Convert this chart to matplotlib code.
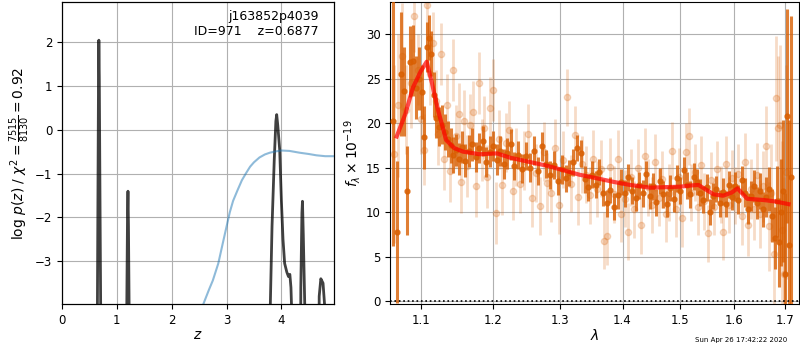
import matplotlib
matplotlib.use('Agg')
import matplotlib.pyplot as plt

# --- left panel: p(z) and chi2 ---
z_pz = [0.0, 0.62, 0.645, 0.665, 0.672, 0.68, 0.695, 0.71, 0.74,
        1.15, 1.175, 1.195, 1.203, 1.212, 1.23, 1.26,
        3.76, 3.79, 3.83, 3.87, 3.90, 3.915, 3.935, 3.97, 4.00, 4.03, 4.06,
        4.10, 4.13, 4.155, 4.175, 4.19, 4.22,
        4.33, 4.355, 4.375, 4.385, 4.40, 4.435, 4.46,
        4.67, 4.69, 4.72, 4.76, 4.80, 4.83, 4.96]
logpz = [-12, -12, -4.2, 1.0, 2.05, 1.2, -2.0, -5.0, -12,
         -12, -5.0, -1.9, -1.40, -2.2, -5.0, -12,
         -12, -4.5, -2.2, -0.7, 0.2, 0.35, 0.1, -0.46, -1.6, -2.5, -3.05,
         -3.25, -3.35, -3.3, -3.6, -4.2, -12,
         -12, -3.6, -1.9, -1.63, -2.4, -4.5, -12,
         -12, -3.8, -3.4, -3.5, -4.2, -12, -12]

z_chi = [2.45, 2.58, 2.68, 2.75, 2.85, 2.93, 3.0, 3.06, 3.12, 3.2, 3.28, 3.36,
         3.43, 3.5, 3.6, 3.7, 3.79, 3.9, 4.0, 4.15, 4.33, 4.5, 4.64, 4.8, 4.96]
chi_curve = [-4.5, -3.97, -3.65, -3.44, -3.05, -2.6, -2.21, -1.88, -1.62,
             -1.38, -1.15, -0.98, -0.84, -0.74, -0.63, -0.56, -0.52, -0.49,
             -0.47, -0.48, -0.52, -0.55, -0.58, -0.60, -0.60]

# --- right panel: spectrum ---
wave_a = [1.064, 1.069, 1.074, 1.079, 1.082, 1.086, 1.090, 1.094, 1.098, 1.102,
          1.105, 1.108, 1.111, 1.114, 1.118, 1.121, 1.125, 1.128, 1.132, 1.136,
          1.140, 1.144, 1.148, 1.152, 1.156, 1.160, 1.165, 1.170, 1.175, 1.180,
          1.185, 1.190, 1.195, 1.200, 1.205, 1.210, 1.215, 1.220, 1.225, 1.230,
          1.236, 1.242, 1.248, 1.254, 1.260, 1.266, 1.272, 1.278, 1.284, 1.290,
          1.296, 1.302, 1.308, 1.314, 1.320, 1.326, 1.332, 1.338, 1.344, 1.350,
          1.356, 1.362, 1.368, 1.374, 1.380, 1.386, 1.392, 1.398, 1.404, 1.410,
          1.416, 1.422, 1.428, 1.434, 1.440, 1.446, 1.452, 1.458, 1.464, 1.470,
          1.476, 1.482, 1.488, 1.494, 1.500, 1.506, 1.512, 1.518, 1.524, 1.530,
          1.536, 1.542, 1.548, 1.554, 1.560, 1.566, 1.572, 1.578, 1.584, 1.590,
          1.596, 1.602, 1.608, 1.614, 1.620, 1.626, 1.632, 1.638, 1.644, 1.650,
          1.656, 1.662, 1.668, 1.674, 1.679, 1.684, 1.688, 1.692, 1.696, 1.700,
          1.704, 1.708, 1.712]
flux_a = [20.2, 7.8, 25.5, 23.6, 12.4, 26.9, 27.0, 24.0, 25.0, 23.5,
          18.4, 28.6, 29.6, 27.8, 23.2, 20.6, 19.6, 19.8, 19.0, 18.2,
          17.5, 16.4, 17.0, 16.0, 17.3, 15.8, 16.9, 17.6, 16.2, 17.2,
          18.0, 15.6, 16.8, 17.4, 15.9, 16.9, 15.4, 16.6, 17.6, 15.2,
          16.4, 14.9, 16.3, 15.0, 16.9, 14.6, 17.4, 15.4, 14.2, 15.3,
          13.5, 14.8, 13.8, 14.4, 15.6, 17.2, 16.6, 13.7, 12.8, 14.2,
          13.1, 14.5, 12.2, 11.0, 12.5, 10.6, 11.9, 13.4, 12.1, 13.9,
          12.4, 11.6, 13.0, 12.1, 14.3, 11.8, 12.9, 11.1, 13.5, 12.0,
          10.9, 12.7, 11.5, 13.8, 12.4, 14.7, 13.0, 12.0, 14.0, 13.4,
          12.2, 11.4, 12.8, 10.0, 11.8, 12.6, 11.0, 12.3, 10.9, 13.1,
          11.7, 12.9, 11.4, 13.6, 12.2, 10.4, 11.8, 12.9, 11.0, 12.4,
          10.3, 11.7, 12.6, 9.6, 7.1, 11.2, 6.6, 10.0, 12.4, 3.1,
          20.8, 6.3, 14.0]
err_a = [14, 8, 7, 5, 5, 4, 4, 3.5, 3.5, 3,
         3.5, 2.8, 2.5, 2.5, 2.5, 2.3, 2.2, 2.2, 2, 2,
         2, 2, 1.8, 1.8, 1.8, 1.8, 1.8, 1.8, 1.7, 1.7,
         1.7, 1.7, 1.7, 1.7, 1.7, 1.7, 1.7, 1.7, 1.7, 1.6,
         1.6, 1.6, 1.6, 1.6, 1.6, 1.6, 1.6, 1.6, 1.6, 1.6,
         1.6, 1.6, 1.5, 1.5, 1.5, 1.5, 1.5, 1.5, 1.5, 1.5,
         1.5, 1.5, 1.5, 1.5, 1.5, 1.5, 1.5, 1.5, 1.5, 1.5,
         1.5, 1.5, 1.5, 1.5, 1.5, 1.5, 1.5, 1.5, 1.5, 1.5,
         1.5, 1.5, 1.5, 1.5, 1.5, 1.5, 1.5, 1.5, 1.5, 1.5,
         1.5, 1.5, 1.5, 1.5, 1.5, 1.5, 1.5, 1.5, 1.5, 1.5,
         1.5, 1.6, 1.6, 1.6, 1.6, 1.7, 1.7, 1.8, 1.8, 2,
         2, 2.2, 2.5, 3, 3.5, 4, 5, 6, 8, 9,
         12, 14, 18]

wave_b = [1.066, 1.071, 1.076, 1.081, 1.087, 1.091, 1.096, 1.100, 1.104, 1.109,
          1.113, 1.116, 1.120, 1.123, 1.127, 1.131, 1.135, 1.139, 1.143, 1.147,
          1.151, 1.155, 1.159, 1.163, 1.167, 1.171, 1.175, 1.179, 1.183, 1.187,
          1.191, 1.195, 1.199, 1.203, 1.208, 1.213, 1.218, 1.223, 1.228, 1.233,
          1.238, 1.244, 1.250, 1.256, 1.262, 1.268, 1.274, 1.280, 1.286, 1.292,
          1.298, 1.304, 1.310, 1.316, 1.322, 1.328, 1.334, 1.340, 1.346, 1.352,
          1.358, 1.364, 1.370, 1.375, 1.380, 1.386, 1.392, 1.398, 1.404, 1.409,
          1.414, 1.420, 1.426, 1.432, 1.438, 1.444, 1.450, 1.456, 1.462, 1.468,
          1.474, 1.480, 1.486, 1.492, 1.498, 1.504, 1.510, 1.515, 1.520, 1.526,
          1.532, 1.538, 1.544, 1.550, 1.556, 1.562, 1.568, 1.574, 1.578, 1.584,
          1.590, 1.596, 1.602, 1.608, 1.614, 1.620, 1.626, 1.632, 1.638, 1.644,
          1.650, 1.656, 1.662, 1.667, 1.672, 1.677, 1.681, 1.685, 1.689, 1.693,
          1.697, 1.701]
flux_b = [16.5, 22.0, 27.5, 21.5, 24.5, 32.0, 26.0, 20.5, 17.0, 33.3,
          25.5, 29.0, 22.5, 18.8, 27.8, 16.0, 22.0, 14.6, 26.0, 18.5,
          21.0, 13.4, 20.2, 15.2, 19.8, 21.2, 12.9, 24.5, 17.0, 19.5,
          14.0, 21.7, 23.7, 9.9, 18.2, 13.0, 17.8, 19.2, 12.4, 16.2,
          13.2, 15.8, 18.8, 11.6, 14.4, 10.7, 16.8, 13.3, 12.2, 17.2,
          10.8, 15.9, 22.9, 13.2, 18.7, 11.7, 15.4, 14.2, 11.9, 16.0,
          12.6, 14.9, 6.8, 7.3, 15.1, 12.0, 16.0, 9.8, 11.5, 7.8,
          13.9, 10.3, 15.0, 8.5, 16.3, 12.8, 10.8, 15.6, 11.6, 13.7,
          9.8, 12.2, 16.9, 10.4, 14.0, 9.3, 16.8, 18.5, 12.2, 14.5,
          10.6, 15.3, 11.2, 7.6, 13.6, 10.6, 14.8, 12.0, 7.8, 15.4,
          10.8, 13.8, 11.9, 14.3, 9.6, 15.6, 8.5, 12.6, 10.4, 14.2,
          9.8, 12.9, 17.4, 8.4, 12.2, 5.3, 22.8, 19.5, 19.8, 8.0,
          3.0, 14.5]
err_b = [10, 8, 6, 5, 5, 4, 4, 4, 4, 3.5,
         3.5, 3.5, 3.5, 3.5, 3.5, 3.5, 3.5, 3.5, 3.5, 3.5,
         3.5, 3.5, 3.5, 3.5, 3.5, 3.5, 3.5, 3.5, 3.5, 3.5,
         3.5, 3.5, 3.5, 3.5, 3.3, 3.3, 3.3, 3.3, 3.3, 3.3,
         3.3, 3.3, 3.3, 3.3, 3.3, 3.3, 3.3, 3.3, 3.3, 3.3,
         3.3, 3.2, 3.2, 3.2, 3.2, 3.2, 3.2, 3.2, 3.2, 3.2,
         3.2, 3.2, 3.2, 3.2, 3.2, 3.2, 3.2, 3.2, 3.2, 3.2,
         3.2, 3.2, 3.2, 3.2, 3.2, 3.2, 3.2, 3.2, 3.2, 3.2,
         3.2, 3.2, 3.2, 3.2, 3.2, 3.2, 3.2, 3.2, 3.2, 3.2,
         3.2, 3.2, 3.2, 3.2, 3.2, 3.2, 3.2, 3.2, 3.2, 3.2,
         3.2, 3.2, 3.2, 3.3, 3.3, 3.3, 3.4, 3.4, 3.5, 3.6,
         3.8, 4, 4.5, 5, 5.5, 6, 7, 8, 9, 10,
         11, 12]

wave_model = [1.069, 1.080, 1.090, 1.100, 1.108, 1.115, 1.123, 1.134, 1.145, 1.157,
              1.181, 1.205, 1.225, 1.249, 1.280, 1.305, 1.330, 1.358, 1.385, 1.413,
              1.447, 1.470, 1.500, 1.520, 1.533, 1.545, 1.561, 1.579, 1.595, 1.606,
              1.625, 1.657, 1.680, 1.707]
flux_model = [18.5, 21.0, 24.0, 25.8, 26.9, 24.5, 21.5, 18.1, 17.2, 16.8,
              16.5, 16.6, 16.1, 15.7, 15.2, 14.7, 14.2, 13.8, 13.4, 13.05,
              12.75, 12.8, 12.86, 13.0, 13.05, 12.6, 12.0, 11.85, 12.2, 12.67,
              11.5, 11.36, 11.2, 10.9]

lam_ticks = [1.1, 1.2, 1.3, 1.4, 1.5, 1.6, 1.7]

plt.rcParams['font.size'] = 8.5

fig = plt.figure(figsize=(8, 3.5), dpi=100)
ax = fig.add_axes([0.0775, 0.131, 0.34, 0.863])
ax2 = ax.twinx()
axs = fig.add_axes([0.488, 0.131, 0.511, 0.863])

# p(z)
ax.plot(z_pz, logpz, color='k', alpha=0.75, lw=2)
ax.set_xlim(0, 4.96)
ax.set_ylim(-3.98, 2.92)
ax.set_xticks([0, 1, 2, 3, 4])
ax.set_yticks([-3, -2, -1, 0, 1, 2])
ax.grid(True)
ax.set_axisbelow(True)
ax.set_xlabel(r'$z$', fontsize=10, labelpad=1)
ax.set_ylabel(r'log $p(z)$ / $\chi^2=\frac{7515}{8130}=0.92$', fontsize=10, labelpad=2)
ax.text(0.945, 0.975, 'j163852p4039\nID=971    z=0.6877', transform=ax.transAxes,
        ha='right', va='top', fontsize=9)

ax2.plot(z_chi, chi_curve, color='#1f77b4', alpha=0.5, lw=1.5)
ax2.set_ylim(-3.98, 2.92)
ax2.set_yticks([])

# spectrum
axs.errorbar(wave_b, flux_b, yerr=err_b, marker='o', ms=4.5, linestyle='None',
             color='#d95f02', alpha=0.22, elinewidth=2, zorder=2)
axs.errorbar(wave_a, flux_a, yerr=err_a, marker='o', ms=3.5, linestyle='None',
             color='#d95f02', alpha=0.8, elinewidth=2.2, zorder=3)
axs.plot(wave_model, flux_model, color='r', alpha=0.7, lw=3, zorder=4)
axs.axhline(0, color='k', linestyle=':', lw=1.2, zorder=5)

axs.set_xscale('log')
axs.set_xlim(1.061, 1.729)
axs.set_xticks(lam_ticks)
axs.set_xticklabels([f'{t:.1f}' for t in lam_ticks])
axs.minorticks_off()
axs.set_ylim(-0.34, 33.6)
axs.set_yticks([0, 5, 10, 15, 20, 25, 30])
axs.grid(True)
axs.set_axisbelow(True)
axs.set_xlabel(r'$\lambda$', fontsize=10, labelpad=1)
axs.set_ylabel(r'$f_\lambda \times 10^{-19}$', fontsize=10, labelpad=2)

fig.text(0.984, 0.028, 'Sun Apr 26 17:42:22 2020', ha='right', va='center', fontsize=5)

fig.savefig('out.png', dpi=100)
